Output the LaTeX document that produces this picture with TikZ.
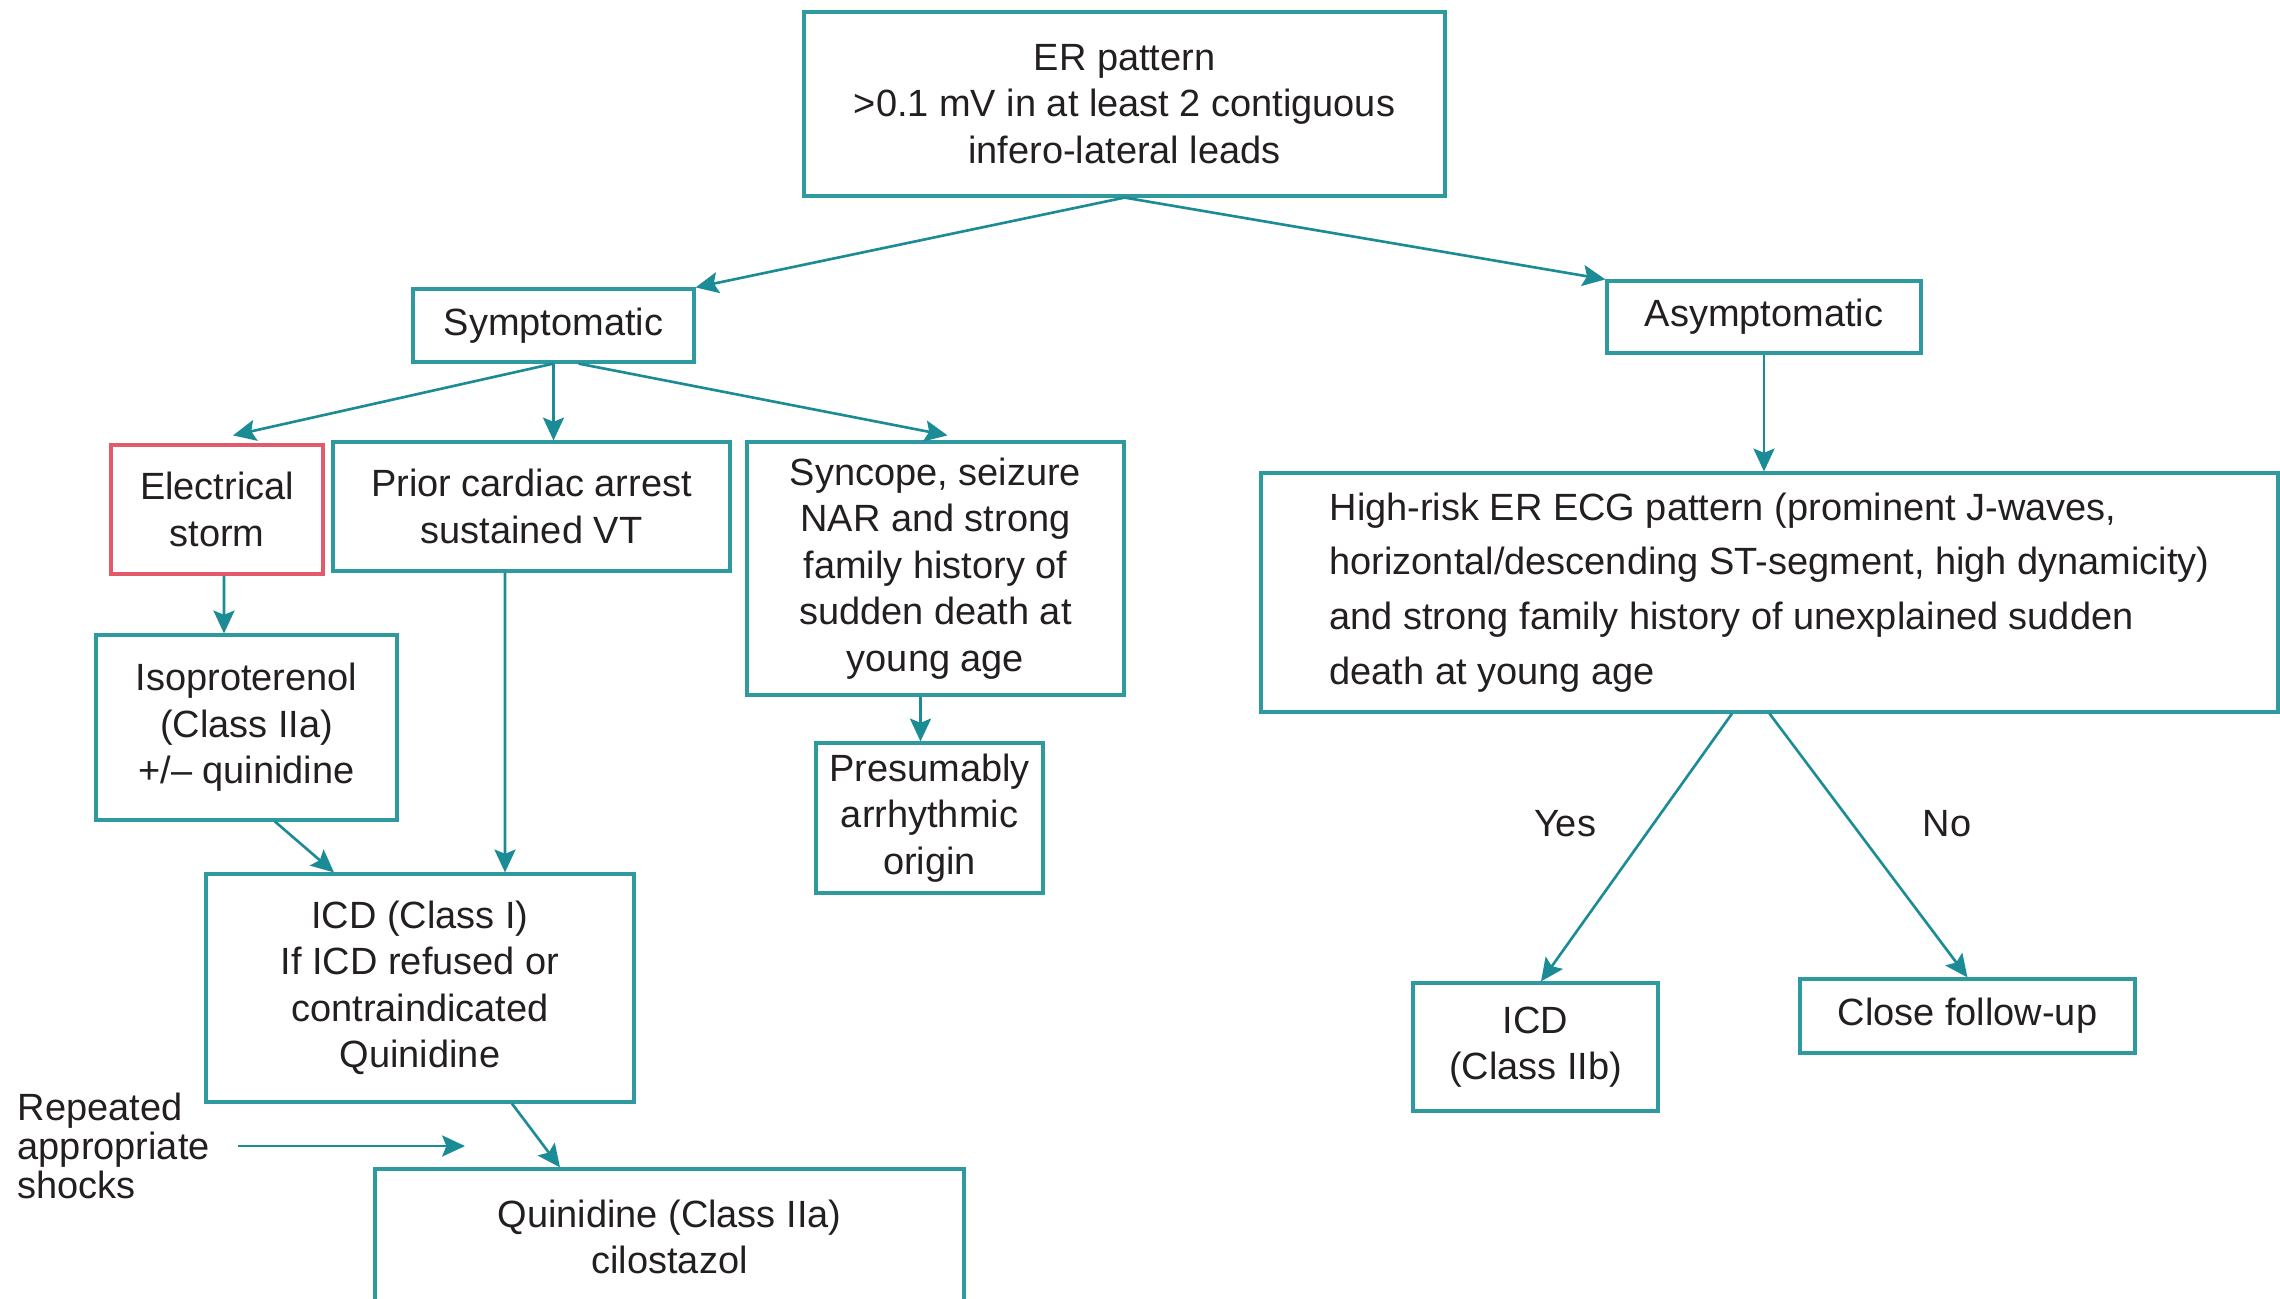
\documentclass[tikz,border=0pt]{standalone}
\usepackage{fontspec}
\setmainfont{Liberation Sans}
\usetikzlibrary{arrows.meta}
\definecolor{boxline}{HTML}{2E9AA0}
\definecolor{arrowline}{HTML}{1B8B95}
\definecolor{alertline}{HTML}{E25A6C}
\definecolor{ink}{HTML}{231F20}

\begin{document}
\begin{tikzpicture}[
  box/.style={draw=boxline, line width=0.9pt, align=center, inner sep=0pt, text=ink,
              font=\fontsize{10.8}{13.2}\selectfont},
  alert/.style={box, draw=alertline},
  note/.style={align=left, inner sep=0pt, text=ink, font=\fontsize{10.8}{11.1}\selectfont},
  arr/.style={-{Stealth[length=6.5pt, width=6pt, inset=1.2pt]}, line width=0.75pt, arrowline},
]
\useasboundingbox (0,0) rectangle (22.8,-12.99);
\clip (0,0) rectangle (22.8,-12.99);

\node[box, minimum width=6.41cm, minimum height=1.84cm] (er) at (11.245,-1.04)
  {ER pattern\\>0.1 mV in at least 2 contiguous\\infero-lateral leads};
\node[box, minimum width=2.81cm, minimum height=0.73cm] (symp)  at (5.535,-3.255) {Symptomatic};
\node[box, minimum width=3.14cm, minimum height=0.72cm] (asymp) at (17.64,-3.17)  {Asymptomatic};

\node[alert, minimum width=2.12cm, minimum height=1.29cm] (storm)   at (2.17,-5.095)  {Electrical\\storm};
\node[box,   minimum width=3.97cm, minimum height=1.29cm] (arrest)  at (5.315,-5.065) {Prior cardiac arrest\\sustained VT};
\node[box,   minimum width=3.77cm, minimum height=2.53cm] (syncope) at (9.355,-5.685)
  {Syncope, seizure\\NAR and strong\\family history of\\sudden death at\\young age};
\node[box, minimum width=2.27cm, minimum height=1.50cm] (presum) at (9.295,-8.18) {Presumably\\arrhythmic\\origin};
\node[box, minimum width=3.01cm, minimum height=1.85cm] (iso)    at (2.465,-7.275) {Isoproterenol\\(Class IIa)\\+/-- quinidine};
\node[box, minimum width=4.28cm, minimum height=2.28cm] (icd)    at (4.20,-9.88)
  {ICD (Class I)\\If ICD refused or\\contraindicated\\Quinidine};
\node[box, minimum width=5.89cm, minimum height=1.36cm] (quin)   at (6.695,-12.37) {Quinidine (Class IIa)\\cilostazol};

\node[box, align=left, minimum width=10.17cm, minimum height=2.39cm,
      font=\fontsize{10.8}{15.6}\selectfont] (risk) at (17.695,-5.925)
  {High-risk ER ECG pattern (prominent J-waves,\\horizontal/descending ST-segment, high dynamicity)\\and strong family history of unexplained sudden\\death at young age};
\node[box, minimum width=2.45cm, minimum height=1.28cm] (icdb)   at (15.355,-10.47) {ICD\\(Class IIb)};
\node[box, minimum width=3.35cm, minimum height=0.74cm] (follow) at (19.675,-10.16) {Close follow-up};

\node[note] (yes) at (15.65,-8.24) {Yes};
\node[note] (no)  at (19.47,-8.24) {No};
\node[note, anchor=west] (shocks) at (0.17,-11.46) {Repeated\\appropriate\\shocks};
\coordinate (shocksend) at (4.65,-11.46);

\draw[arr] (er.south) -- (symp.north east);
\draw[arr] (er.south) -- (asymp.north west);
\draw[arr] (symp.south) -- ([xshift=1.6mm, yshift=0.8mm]storm.north);
\draw[arr] (symp.south) -- (symp.south |- arrest.north);
\draw[arr] ([xshift=2.5mm]symp.south) -- ([xshift=1.2mm, yshift=0.5mm]syncope.north);
\draw[arr] (asymp.south) -- (asymp.south |- risk.north);
\draw[arr] ([xshift=0.7mm]storm.south) -- ([xshift=-2.25mm]iso.north);
\draw[arr] ([xshift=-2.65mm]arrest.south) -- ([xshift=8.5mm]icd.north);
\draw[arr] ([xshift=2.85mm]iso.south) -- ([xshift=-8.6mm]icd.north);
\draw[arr] ([xshift=-1.5mm]syncope.south) -- ([xshift=-0.9mm]presum.north);
\draw[arr] ([xshift=9.2mm]icd.south) -- ([xshift=-10.95mm]quin.north);
\draw[arr] ([xshift=2.8mm]shocks.east) -- (shocksend);
\draw[arr] ([xshift=-3.75mm]risk.south) -- ([xshift=0.55mm]icdb.north);
\draw[arr] (risk.south) -- (follow.north);
\end{tikzpicture}
\end{document}
